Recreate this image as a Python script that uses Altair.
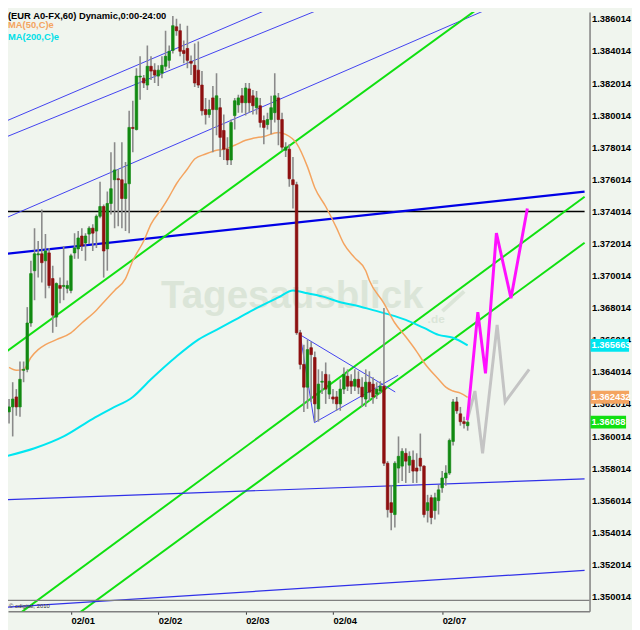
import altair as alt
import pandas as pd

# ---------------- data ----------------
opens = [1.36152, 1.36183, 1.36245, 1.36183, 1.36411, 1.36417, 1.36706, 1.37032, 1.37131, 1.37137,
         1.37094, 1.37143, 1.36983, 1.36743, 1.36940, 1.36934, 1.36922, 1.36909, 1.37143, 1.37168,
         1.37248, 1.37205, 1.37260, 1.37297, 1.37279, 1.37371, 1.37432, 1.37168, 1.37451, 1.37599,
         1.37605, 1.37599, 1.37482, 1.37574, 1.37925, 1.37912, 1.38239, 1.38232, 1.38189, 1.38306,
         1.38282, 1.38245, 1.38263, 1.38306, 1.38343, 1.38405, 1.38552, 1.38528, 1.38405, 1.38417,
         1.38337, 1.38312, 1.38282, 1.38189, 1.38036, 1.38005, 1.38109, 1.38036, 1.38048, 1.37906,
         1.37789, 1.37722, 1.37999, 1.38066, 1.38122, 1.38079, 1.38165, 1.38122, 1.38048, 1.38060,
         1.37968, 1.37943, 1.37974, 1.38017, 1.38109, 1.37974, 1.37783, 1.37789, 1.37599, 1.37568,
         1.36645, 1.36448, 1.36306, 1.36552, 1.36491, 1.36171, 1.36337, 1.36386, 1.36263, 1.36245,
         1.36245, 1.36202, 1.36294, 1.36374, 1.36343, 1.36312, 1.36355, 1.36306, 1.36232, 1.36337,
         1.36325, 1.36263, 1.36282, 1.36312, 1.35832, 1.35586, 1.35512, 1.35802, 1.35814, 1.35894,
         1.35820, 1.35851, 1.35802, 1.35863, 1.35814, 1.35537, 1.35617, 1.35537, 1.35599, 1.35679,
         1.35740, 1.35771, 1.35968, 1.36214, 1.36140, 1.36091, 1.36066]
highs = [1.36232, 1.36337, 1.36294, 1.36466, 1.36466, 1.36805, 1.37094, 1.37297, 1.37217, 1.37414,
         1.37260, 1.37174, 1.37063, 1.36959, 1.36989, 1.37186, 1.36971, 1.37137, 1.37266, 1.37279,
         1.37297, 1.37266, 1.37309, 1.37322, 1.37383, 1.37586, 1.37445, 1.37525, 1.37771, 1.37832,
         1.37666, 1.37832, 1.37709, 1.38029, 1.38091, 1.38294, 1.38368, 1.38251, 1.38436, 1.38368,
         1.38325, 1.38312, 1.38368, 1.38528, 1.38436, 1.38620, 1.38602, 1.38571, 1.38466, 1.38559,
         1.38374, 1.38448, 1.38460, 1.38276, 1.38109, 1.38097, 1.38183, 1.38263, 1.38109, 1.38005,
         1.37863, 1.37974, 1.38109, 1.38128, 1.38171, 1.38202, 1.38202, 1.38159, 1.38152, 1.38109,
         1.37999, 1.38017, 1.38122, 1.38263, 1.38140, 1.38017, 1.37832, 1.37820, 1.37740, 1.37586,
         1.36663, 1.36571, 1.36602, 1.36589, 1.36528, 1.36417, 1.36405, 1.36460, 1.36386, 1.36294,
         1.36282, 1.36355, 1.36429, 1.36417, 1.36386, 1.36417, 1.36405, 1.36368, 1.36417, 1.36405,
         1.36368, 1.36337, 1.36343, 1.36799, 1.35845, 1.35697, 1.35845, 1.35999, 1.35925, 1.35925,
         1.35906, 1.35912, 1.35894, 1.36017, 1.35820, 1.35635, 1.35635, 1.35648, 1.35697, 1.35783,
         1.35820, 1.35986, 1.36232, 1.36245, 1.36183, 1.36122, 1.36109]
lows = [1.36079, 1.35999, 1.36128, 1.36122, 1.36337, 1.36399, 1.36682, 1.36848, 1.36989, 1.36959,
        1.36860, 1.36922, 1.36645, 1.36682, 1.36829, 1.36848, 1.36891, 1.36891, 1.37106, 1.37106,
        1.37155, 1.37094, 1.37199, 1.37155, 1.37174, 1.37359, 1.36989, 1.37032, 1.37383, 1.37297,
        1.37309, 1.37297, 1.37279, 1.37266, 1.37771, 1.37906, 1.38097, 1.38171, 1.38159, 1.38220,
        1.38202, 1.38183, 1.38232, 1.38282, 1.38294, 1.38386, 1.38497, 1.38368, 1.38325, 1.38294,
        1.38251, 1.38177, 1.38171, 1.37999, 1.37943, 1.37986, 1.37771, 1.37876, 1.37740, 1.37722,
        1.37691, 1.37691, 1.37912, 1.38017, 1.38017, 1.37999, 1.38017, 1.38005, 1.38005, 1.37925,
        1.37820, 1.37912, 1.37882, 1.37956, 1.37814, 1.37783, 1.37740, 1.37556, 1.37420, 1.36632,
        1.36417, 1.36152, 1.36171, 1.36214, 1.36091, 1.36091, 1.36263, 1.36202, 1.36232, 1.36202,
        1.36159, 1.36159, 1.36263, 1.36282, 1.36263, 1.36282, 1.36263, 1.36183, 1.36183, 1.36220,
        1.36202, 1.36232, 1.36263, 1.35814, 1.35494, 1.35414, 1.35432, 1.35709, 1.35722, 1.35709,
        1.35771, 1.35709, 1.35709, 1.35783, 1.35494, 1.35463, 1.35451, 1.35482, 1.35512, 1.35648,
        1.35691, 1.35759, 1.35943, 1.36140, 1.36066, 1.36048, 1.36035]
closes = [1.36183, 1.36232, 1.36183, 1.36355, 1.36417, 1.36706, 1.37014, 1.37137, 1.37137, 1.37082,
          1.37155, 1.36940, 1.36755, 1.36952, 1.36922, 1.36940, 1.36940, 1.37125, 1.37174, 1.37236,
          1.37186, 1.37248, 1.37297, 1.37266, 1.37371, 1.37432, 1.37155, 1.37451, 1.37543, 1.37660,
          1.37599, 1.37482, 1.37574, 1.37925, 1.37919, 1.38245, 1.38245, 1.38202, 1.38306, 1.38276,
          1.38251, 1.38282, 1.38312, 1.38368, 1.38399, 1.38559, 1.38528, 1.38399, 1.38386, 1.38343,
          1.38325, 1.38202, 1.38189, 1.38029, 1.38005, 1.38036, 1.38036, 1.38122, 1.37863, 1.37789,
          1.37722, 1.37956, 1.38091, 1.38109, 1.38079, 1.38171, 1.38079, 1.38060, 1.38109, 1.37956,
          1.37925, 1.37974, 1.38048, 1.38122, 1.37974, 1.37802, 1.37802, 1.37605, 1.37568, 1.36645,
          1.36448, 1.36306, 1.36540, 1.36509, 1.36202, 1.36325, 1.36343, 1.36294, 1.36343, 1.36232,
          1.36202, 1.36294, 1.36386, 1.36312, 1.36312, 1.36355, 1.36306, 1.36245, 1.36337, 1.36275,
          1.36245, 1.36294, 1.36312, 1.35832, 1.35543, 1.35525, 1.35832, 1.35875, 1.35906, 1.35845,
          1.35875, 1.35783, 1.35783, 1.35814, 1.35512, 1.35586, 1.35494, 1.35617, 1.35666, 1.35740,
          1.35771, 1.35974, 1.36214, 1.36159, 1.36091, 1.36079, 1.36088]

# moving averages (bar index, price)
ma50_idx = [0, 2, 4, 6, 8, 10, 13, 17, 20, 24, 26, 29, 32, 34, 37, 39, 42, 44, 46, 49,
            51, 54, 57, 59, 62, 65, 67, 70, 74, 76, 79, 82, 84, 87, 90, 92, 95, 98, 99, 103,
            106, 109, 112, 114, 118, 120, 122, 124, 126]
ma50_val = [1.36429, 1.36411, 1.36417, 1.36491, 1.36540, 1.36571, 1.36602, 1.36645, 1.36706, 1.36786,
            1.36835, 1.36909, 1.36983, 1.37094, 1.37217, 1.37322, 1.37420, 1.37494, 1.37574, 1.37666,
            1.37728, 1.37759, 1.37783, 1.37789, 1.37814, 1.37845, 1.37857, 1.37869, 1.37894, 1.37882,
            1.37826, 1.37679, 1.37549, 1.37432, 1.37297, 1.37199, 1.37112, 1.37032, 1.36971, 1.36829,
            1.36706, 1.36620, 1.36528, 1.36460, 1.36355, 1.36306, 1.36282, 1.36269, 1.36243]
ma200_idx = [-1, 7, 15, 23, 28, 34, 39, 46, 52, 58, 63, 68, 74, 78, 82, 87, 91, 95, 100, 106,
             109, 114, 118, 122, 126]
ma200_val = [1.35875, 1.35925, 1.35999, 1.36109, 1.36171, 1.36245, 1.36355, 1.36497, 1.36602, 1.36675,
             1.36737, 1.36799, 1.36866, 1.36909, 1.36891, 1.36866, 1.36835, 1.36817, 1.36786, 1.36749,
             1.36725, 1.36675, 1.36632, 1.36614, 1.36566]

# drawn trend lines: (start index, start price, end index, end price)
trend_names = ["black", "blue_thick", "thin_a", "thin_b", "thin_c", "green_1", "green_2", "green_3",
               "low_blue_1", "low_blue_2", "tri_up", "tri_low", "tri_left"]
trend_i0 = [-1.07, -1.07, -1.07, -1.07, -1.07, -1.07, -1.07, -1.07, -1.07, -1.07, 80.0, 83.9, 80.0]
trend_p0 = [1.374014, 1.37137, 1.37359, 1.37962, 1.37863, 1.36522, 1.34829, 1.34561, 1.35605, 1.34934,
            1.36632, 1.36085, 1.36632]
trend_i1 = [158.13, 158.13, 158.13, 158.13, 158.13, 158.13, 158.13, 158.13, 158.13, 158.13, 106.1, 106.9, 83.9]
trend_p1 = [1.374014, 1.37525, 1.38924, 1.39504, 1.39333, 1.39149, 1.37493, 1.37206, 1.35734, 1.35164,
            1.36276, 1.36380, 1.36085]

# forecast zig-zags
mag_idx = [125.9, 128.8, 130.9, 133.9, 137.9, 142.4]
mag_val = [1.36100, 1.36774, 1.36392, 1.37266, 1.36860, 1.37420]
gray_idx = [125.9, 128.0, 130.1, 134.1, 136.3, 142.9]
gray_val = [1.36100, 1.36282, 1.35894, 1.36694, 1.36214, 1.36417]

# axis ticks
x_tick_idx = [17, 41, 65, 89, 119]
x_tick_lbl = ["02/01", "02/02", "02/03", "02/04", "02/07"]
y_ticks = [1.350014, 1.352014, 1.354014, 1.356014, 1.358014, 1.360014, 1.362014, 1.364014, 1.366014,
           1.368014, 1.370014, 1.372014, 1.374014, 1.376014, 1.378014, 1.380014, 1.382014, 1.384014,
           1.386014]

# last-value tags on the price axis
tag_names = ["ma200", "ma50", "last"]
tag_vals = [1.365663, 1.362432, 1.36088]
tag_text = ["1.365663", "1.362432", "1.36088"]

header = "(EUR A0-FX,60) Dynamic,0:00-24:00"
legend_ma50 = "MA(50,C)e"
legend_ma200 = "MA(200,C)e"
copyright_txt = "\u00a9 cdigital, 2010"

# ---------------- styling ----------------
BG = "#f0f5ee"
FONT = "Liberation Sans"
W, H = 589, 607
X_DOM = [1.0667, 158.133]
Y_DOM = [1.349094, 1.386448]

label_expr = "".join(f"datum.value == {p} ? '{l}' : " for p, l in zip(x_tick_idx, x_tick_lbl)) + "''"
xaxis = alt.Axis(values=x_tick_idx, labelExpr=label_expr, labelAlign="left", labelFont=FONT,
                 labelFontWeight="bold", labelFontSize=9.5, labelColor="#000", tickSize=3,
                 tickColor="#333", domainColor="#808080", domainWidth=1.5, grid=False,
                 labelPadding=1, labelOverlap=False, labelFlush=False, title=None)
yaxis = alt.Axis(values=y_ticks, format=".6f", orient="right", labelFont=FONT, labelFontWeight="bold",
                 labelFontSize=9.5, labelColor="#000", ticks=False, domainColor="#808080",
                 domainWidth=1.5, grid=False, labelPadding=2, labelOverlap=False, labelFlush=False,
                 title=None)


def X(f):
    return alt.X(f, type="quantitative", scale=alt.Scale(domain=X_DOM, nice=False, zero=False),
                 axis=xaxis, title=None)


def Y(f):
    return alt.Y(f, type="quantitative", scale=alt.Scale(domain=Y_DOM, nice=False, zero=False),
                 axis=yaxis, title=None)


candles = pd.DataFrame({"idx": list(range(len(opens))), "open": opens, "high": highs,
                        "low": lows, "close": closes})
candles["dir"] = ["up" if c >= o else "down" for o, c in zip(opens, closes)]
dir_scale = alt.Scale(domain=["up", "down"], range=["#128a12", "#8e1010"])

trend_style = {
    "black": ("#000000", 1.5), "blue_thick": ("#0000e6", 2.2), "thin_a": ("#4040f0", 1),
    "thin_b": ("#4040f0", 1), "thin_c": ("#4040f0", 1), "green_1": ("#10e010", 2),
    "green_2": ("#10e010", 2), "green_3": ("#10e010", 2), "low_blue_1": ("#3030e8", 1.2),
    "low_blue_2": ("#3030e8", 1.2), "tri_up": ("#4040f0", 1), "tri_low": ("#4040f0", 1),
    "tri_left": ("#4040f0", 1),
}
tag_style = {"ma200": "#00e6f0", "ma50": "#f4a460", "last": "#10e010"}

layers = []

# watermark
WM = "#dbe5d8"
layers.append(alt.Chart(pd.DataFrame({"t": ["Tagesausblick"]})).mark_text(
    align="left", baseline="alphabetic", fontSize=39, fontWeight="bold", font=FONT, color=WM
).encode(text="t:N", x=alt.value(155), y=alt.value(300)))
layers.append(alt.Chart(pd.DataFrame({"t": [".de"]})).mark_text(
    align="left", baseline="alphabetic", fontSize=12, fontWeight="bold", font=FONT, color=WM
).encode(text="t:N", x=alt.value(425), y=alt.value(315)))
layers.append(alt.Chart(pd.DataFrame({"a": [0]})).mark_rule(color=WM, strokeWidth=4).encode(
    x=alt.value(440), x2=alt.value(462), y=alt.value(303), y2=alt.value(283)))

# trend lines
for n, i0, p0, i1, p1 in zip(trend_names, trend_i0, trend_p0, trend_i1, trend_p1):
    col, sw = trend_style[n]
    d = pd.DataFrame({"idx": [i0, i1], "price": [p0, p1]})
    layers.append(alt.Chart(d).mark_line(clip=True, color=col, strokeWidth=sw).encode(
        x=X("idx"), y=Y("price")))

# moving averages
layers.append(alt.Chart(pd.DataFrame({"idx": ma200_idx, "price": ma200_val})).mark_line(
    clip=True, color="#00e6f0", strokeWidth=2, interpolate="monotone").encode(x=X("idx"), y=Y("price")))
layers.append(alt.Chart(pd.DataFrame({"idx": ma50_idx, "price": ma50_val})).mark_line(
    clip=True, color="#f4a460", strokeWidth=1.5, interpolate="monotone").encode(x=X("idx"), y=Y("price")))

# candles
layers.append(alt.Chart(candles).mark_rule(clip=True, color="#8a8a8a", strokeWidth=1.6).encode(
    x=X("idx"), y=Y("low"), y2="high"))
layers.append(alt.Chart(candles).mark_bar(clip=True, size=2.6, strokeWidth=0.7).encode(
    x=X("idx"), y=Y("open"), y2="close",
    fill=alt.Fill("dir:N", scale=dir_scale, legend=None),
    stroke=alt.Stroke("dir:N", scale=dir_scale, legend=None)))

# forecast zig-zags
layers.append(alt.Chart(pd.DataFrame({"idx": gray_idx, "price": gray_val})).mark_line(
    clip=True, color="#c4c4c4", strokeWidth=3).encode(x=X("idx"), y=Y("price")))
layers.append(alt.Chart(pd.DataFrame({"idx": mag_idx, "price": mag_val})).mark_line(
    clip=True, color="#ff10ff", strokeWidth=3).encode(x=X("idx"), y=Y("price")))

# separator of the copyright strip + copyright text
layers.append(alt.Chart(pd.DataFrame({"a": [0]})).mark_rule(color="#808080", strokeWidth=1.2).encode(
    x=alt.value(0), x2=alt.value(W), y=alt.value(596)))
layers.append(alt.Chart(pd.DataFrame({"t": [copyright_txt]})).mark_text(
    align="left", baseline="middle", fontSize=6, font=FONT, color="#333"
).encode(text="t:N", x=alt.value(1), y=alt.value(601.5)))

# header / legend
for txt, col, yy in [(header, "#000000", 4), (legend_ma50, "#f4a460", 13.5), (legend_ma200, "#00e0e8", 25)]:
    layers.append(alt.Chart(pd.DataFrame({"t": [txt]})).mark_text(
        align="left", baseline="middle", fontSize=9.5, fontWeight="bold", font=FONT, color=col
    ).encode(text="t:N", x=alt.value(0), y=alt.value(yy)))

# value tags on the price axis (one layer each, so their colours stay their own)
for n, v, t in zip(tag_names, tag_vals, tag_text):
    d = pd.DataFrame({"val": [v], "txt": [t]})
    layers.append(alt.Chart(d).transform_calculate(
        hi="datum.val + 0.0004", lo="datum.val - 0.0004"
    ).mark_rect(color=tag_style[n]).encode(
        x=alt.value(W + 1), x2=alt.value(W + 40 if len(t) > 7 else W + 37), y=Y("hi"), y2="lo"))
    layers.append(alt.Chart(d).mark_text(
        align="left", baseline="middle", fontSize=9.5, fontWeight="bold", font=FONT, color="#ffffff"
    ).encode(x=alt.value(W + 2), y=Y("val"), text="txt:N"))

chart = alt.layer(*layers).properties(
    width=W, height=H,
    padding={"left": 0, "top": 0, "right": 43, "bottom": 15},
    autosize=alt.AutoSizeParams(type="none"),
    background=BG,
).configure_view(stroke=None, fill=BG)

chart.save("out.html", embed_options={"renderer": "svg", "actions": False})
